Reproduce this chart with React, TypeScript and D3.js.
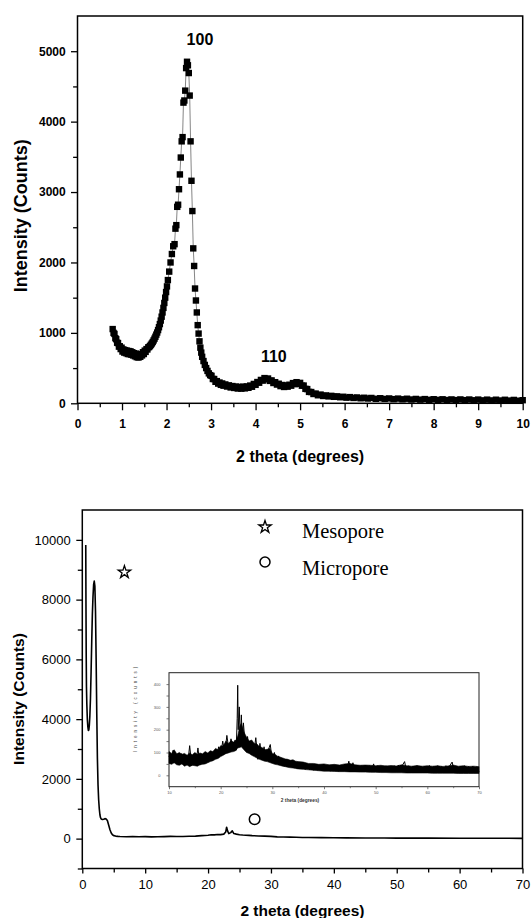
import React, { useRef, useEffect } from "react";
import * as d3 from "d3";

// ---- top panel: low-angle XRD (scatter squares) ----
const topXTicks = [0, 1, 2, 3, 4, 5, 6, 7, 8, 9, 10];
const topXMinor = [0.5, 1.5, 2.5, 3.5, 4.5, 5.5, 6.5, 7.5, 8.5, 9.5];
const topYTicks = [0, 1000, 2000, 3000, 4000, 5000];
const topYMinor = [500, 1500, 2500, 3500, 4500];

const lowAngle: [number, number][] = [
  [0.79, 1054], [0.81, 1000], [0.83, 985], [0.85, 925], [0.87, 910], [0.89, 860], [0.91, 855], [0.93, 805],
  [0.95, 810], [0.97, 770], [0.99, 790], [1.01, 735], [1.03, 765], [1.05, 720], [1.07, 755], [1.09, 712],
  [1.11, 748], [1.13, 700], [1.15, 742], [1.17, 698], [1.19, 738], [1.21, 690], [1.23, 725], [1.25, 680],
  [1.27, 712], [1.29, 668], [1.31, 705], [1.33, 655], [1.35, 695], [1.37, 650], [1.39, 690], [1.41, 660],
  [1.43, 700], [1.45, 680], [1.47, 725], [1.49, 700], [1.51, 748], [1.53, 730], [1.55, 770], [1.57, 765],
  [1.59, 795], [1.61, 800], [1.63, 815], [1.65, 832], [1.67, 850], [1.69, 870], [1.71, 893], [1.73, 918],
  [1.75, 945], [1.77, 975], [1.79, 1005], [1.81, 1040], [1.83, 1080], [1.85, 1125], [1.87, 1175], [1.89, 1230],
  [1.91, 1290], [1.93, 1355], [1.95, 1425], [1.97, 1500], [1.99, 1580], [2.01, 1660], [2.03, 1750], [2.06, 1870],
  [2.09, 2000], [2.12, 2120], [2.15, 2230], [2.18, 2260], [2.2, 2480], [2.22, 2530], [2.24, 2790], [2.26, 2820],
  [2.28, 3040], [2.3, 3250], [2.32, 3490], [2.34, 3720], [2.36, 3780], [2.38, 4270], [2.4, 4300], [2.42, 4440],
  [2.44, 4760], [2.46, 4850], [2.48, 4800], [2.5, 4690], [2.52, 4370], [2.54, 3720], [2.56, 3160], [2.58, 2730],
  [2.6, 2200], [2.62, 1950], [2.64, 1630], [2.66, 1460], [2.68, 1290], [2.7, 1110], [2.72, 990], [2.74, 880],
  [2.76, 790], [2.78, 720], [2.8, 660], [2.83, 600], [2.86, 545], [2.89, 500], [2.92, 460], [2.95, 425],
  [2.98, 400], [3.01, 390], [3.04, 345], [3.07, 345], [3.1, 305], [3.13, 315], [3.16, 280], [3.19, 295],
  [3.22, 262], [3.25, 282], [3.28, 250], [3.32, 268], [3.36, 238], [3.4, 255], [3.44, 225], [3.48, 245],
  [3.52, 218], [3.56, 238], [3.6, 210], [3.64, 232], [3.68, 208], [3.72, 236], [3.76, 212], [3.8, 240],
  [3.84, 220], [3.88, 252], [3.92, 235], [3.96, 275], [4.0, 262], [4.04, 302], [4.08, 292], [4.12, 332],
  [4.16, 322], [4.2, 358], [4.24, 340], [4.28, 352], [4.32, 318], [4.36, 325], [4.4, 288], [4.44, 300],
  [4.48, 266], [4.52, 278], [4.56, 244], [4.6, 260], [4.64, 232], [4.68, 254], [4.72, 236], [4.76, 264],
  [4.8, 250], [4.84, 287], [4.88, 272], [4.92, 300], [4.96, 276], [5.0, 290], [5.04, 250], [5.08, 252],
  [5.12, 205], [5.16, 202], [5.2, 162], [5.25, 160], [5.3, 132], [5.35, 138], [5.4, 114], [5.46, 124],
  [5.52, 104], [5.58, 112], [5.64, 98], [5.7, 106], [5.76, 92], [5.83, 99], [5.9, 86], [5.97, 93],
  [6.04, 80], [6.12, 88], [6.2, 76], [6.28, 83], [6.36, 71], [6.44, 79], [6.52, 68], [6.6, 76],
  [6.7, 64], [6.8, 72], [6.9, 62], [7.0, 69], [7.1, 59], [7.2, 67], [7.3, 57], [7.4, 65],
  [7.5, 54], [7.6, 62], [7.7, 52], [7.8, 60], [7.9, 50], [8.0, 58], [8.1, 49], [8.2, 57],
  [8.3, 47], [8.4, 55], [8.5, 46], [8.6, 55], [8.7, 45], [8.8, 54], [8.9, 43], [9.0, 53],
  [9.1, 42], [9.2, 52], [9.3, 41], [9.4, 51], [9.5, 40], [9.6, 50], [9.7, 39], [9.8, 48],
  [9.9, 37], [10.0, 44],
];

// ---- bottom panel: wide-angle XRD (line) ----
const botXTicks = [0, 10, 20, 30, 40, 50, 60, 70];
const botXMinor = [5, 15, 25, 35, 45, 55, 65];
const botYTicks = [0, 2000, 4000, 6000, 8000, 10000];
const botYMinor = [-1000, 1000, 3000, 5000, 7000, 9000];

const wideAngle: [number, number][] = [
  [0.55, 9830], [0.58, 8000], [0.62, 6200], [0.66, 5100], [0.72, 4500], [0.8, 4000], [0.88, 3750], [0.96, 3620],
  [1.04, 3640], [1.12, 3800], [1.2, 4100], [1.3, 4700], [1.4, 5600], [1.5, 6600], [1.6, 7500], [1.7, 8100],
  [1.8, 8500], [1.9, 8620], [2.0, 8450], [2.1, 7600], [2.2, 6000], [2.3, 4200], [2.4, 2700], [2.5, 1800],
  [2.6, 1300], [2.7, 1000], [2.8, 800], [2.9, 700], [3.0, 660], [3.2, 640], [3.4, 650], [3.6, 670],
  [3.8, 660], [4.0, 600], [4.2, 450], [4.4, 300], [4.6, 190], [4.8, 130], [5.0, 100], [5.3, 85],
  [5.7, 75], [6.0, 70], [7.0, 65], [8.0, 70], [9.0, 62], [10.0, 66], [11.0, 60], [12.0, 64],
  [13.0, 68], [14.0, 75], [15.0, 70], [16.0, 72], [17.0, 80], [18.0, 85], [19.0, 100], [20.0, 115],
  [20.5, 130], [21.0, 125], [21.5, 140], [22.0, 135], [22.5, 150], [22.8, 220], [22.95, 380], [23.1, 260],
  [23.3, 170], [23.6, 200], [23.85, 260], [24.1, 170], [24.5, 150], [25.0, 130], [25.5, 120], [26.0, 115],
  [26.5, 110], [27.0, 100], [28.0, 90], [29.0, 85], [30.0, 75], [31.0, 60], [32.0, 55], [33.0, 50],
  [34.0, 45], [35.0, 40], [36.0, 38], [38.0, 32], [40.0, 28], [42.0, 25], [45.0, 22], [48.0, 20],
  [50.0, 18], [55.0, 16], [60.0, 14], [65.0, 12], [70.0, 10],
];

// ---- inset: zoom of 10-70 degrees ----
const insetXTicks = [10, 20, 30, 40, 50, 60, 70];
const insetXMinor = [15, 25, 35, 45, 55, 65];
const insetYTicks = [0, 100, 200, 300, 400];
const insetYMinor = [50, 150, 250, 350];

// noise envelope of the dense scan: [angle, low, high]
const insetBand: [number, number, number][] = [
  [10, 52, 104], [10.5, 48, 96], [11, 55, 112], [11.5, 46, 94], [12, 44, 100], [12.5, 50, 92],
  [13, 40, 96], [13.5, 45, 88], [14, 38, 98], [14.5, 44, 90], [15, 42, 100], [15.5, 40, 92],
  [16, 46, 98], [16.5, 48, 94], [17, 50, 104], [17.5, 55, 98], [18, 60, 108], [18.5, 64, 104],
  [19, 70, 118], [19.5, 74, 112], [20, 82, 130], [20.5, 88, 128], [21, 95, 150], [21.5, 98, 140],
  [22, 102, 152], [22.5, 104, 146], [22.9, 108, 150], [23.3, 120, 172], [23.7, 122, 215], [24, 125, 228],
  [24.5, 112, 190], [25, 100, 168], [25.5, 96, 150], [26, 88, 155], [26.5, 82, 140], [27, 76, 138],
  [27.5, 70, 125], [28, 66, 122], [28.5, 62, 112], [29, 60, 114], [29.5, 56, 118], [30, 52, 96],
  [30.5, 48, 92], [31, 46, 84], [31.5, 43, 80], [32, 40, 76], [32.5, 38, 72], [33, 35, 70],
  [33.5, 33, 66], [34, 32, 68], [34.5, 30, 62], [35, 28, 60], [36, 26, 58], [37, 24, 52],
  [38, 22, 52], [39, 20, 48], [40, 18, 50], [41, 18, 46], [42, 17, 48], [43, 16, 45],
  [44, 16, 50], [45, 15, 52], [46, 15, 46], [47, 14, 44], [48, 14, 45], [49, 13, 44],
  [50, 13, 42], [51, 12, 44], [52, 12, 41], [53, 11, 43], [54, 11, 41], [55, 11, 46],
  [56, 10, 42], [57, 10, 40], [58, 10, 43], [59, 10, 40], [60, 10, 42], [61, 9, 40],
  [62, 9, 42], [63, 9, 39], [64, 9, 41], [65, 9, 45], [66, 8, 40], [67, 8, 42],
  [68, 8, 39], [69, 8, 40], [70, 8, 38],
];

const insetScan: [number, number][] = [
  [10.0, 85], [10.4, 60], [10.8, 110], [11.2, 55], [11.6, 80], [12.0, 50], [12.4, 95], [12.8, 48],
  [13.2, 70], [13.6, 45], [14.0, 130], [14.4, 42], [14.8, 90], [15.2, 50], [15.6, 120], [16.0, 45],
  [16.4, 85], [16.8, 55], [17.2, 95], [17.6, 58], [18.0, 100], [18.4, 65], [18.8, 110], [19.2, 75],
  [19.6, 125], [20.0, 85], [20.4, 150], [20.8, 95], [21.2, 175], [21.6, 110], [22.0, 160], [22.4, 115],
  [22.8, 155], [23.0, 110], [23.2, 250], [23.3, 395], [23.4, 200], [23.6, 300], [23.8, 140], [24.0, 265],
  [24.2, 150], [24.4, 230], [24.8, 120], [25.2, 170], [25.6, 100], [26.0, 150], [26.4, 95], [26.8, 165],
  [27.2, 70], [27.6, 140], [28.0, 75], [28.4, 125], [28.8, 65], [29.2, 110], [29.6, 135], [30.0, 60],
  [30.4, 100], [30.8, 50], [31.2, 85], [31.6, 45], [32.0, 75], [32.4, 40], [32.8, 70], [33.2, 38],
  [33.6, 65], [34.0, 35], [34.4, 60], [34.8, 30], [35.2, 55], [35.6, 28], [36.0, 52], [36.4, 26],
  [36.8, 50], [37.2, 25], [37.6, 48], [38.0, 22], [38.4, 46], [38.8, 22], [39.2, 45], [39.6, 20],
  [40.0, 42], [40.4, 20], [40.8, 44], [41.2, 18], [41.6, 40], [42.0, 20], [42.4, 45], [42.8, 18],
  [43.2, 40], [43.6, 22], [44.0, 48], [44.4, 20], [44.8, 62], [45.2, 22], [45.6, 55], [46.0, 20],
  [46.4, 45], [46.8, 18], [47.2, 42], [47.6, 18], [48.0, 40], [48.4, 17], [48.8, 42], [49.2, 20],
  [49.6, 50], [50.0, 18], [50.4, 42], [50.8, 17], [51.2, 40], [51.6, 16], [52.0, 42], [52.4, 17],
  [52.8, 40], [53.2, 16], [53.6, 42], [54.0, 18], [54.4, 44], [54.8, 17], [55.2, 45], [55.6, 60],
  [56.0, 16], [56.4, 42], [56.8, 14], [57.2, 40], [57.6, 16], [58.0, 42], [58.4, 18], [58.8, 39],
  [59.2, 14], [59.6, 40], [60.0, 16], [60.4, 43], [60.8, 14], [61.2, 38], [61.6, 16], [62.0, 42],
  [62.4, 14], [62.8, 39], [63.2, 16], [63.6, 42], [64.0, 14], [64.4, 44], [64.8, 58], [65.2, 14],
  [65.6, 40], [66.0, 12], [66.4, 39], [66.8, 14], [67.2, 42], [67.6, 12], [68.0, 39], [68.4, 14],
  [68.8, 40], [69.2, 10], [69.6, 38], [70.0, 16],
];

// annotation markers (data coords)
const starMarker: [number, number] = [6.7, 8920];
const circleMarker: [number, number] = [27.4, 650];
const peakLabels: { text: string; x: number; y: number }[] = [
  { text: "100", x: 2.75, y: 5090 },
  { text: "110", x: 4.41, y: 590 },
];

const SANS = "'Liberation Sans', Arial, Helvetica, sans-serif";
const SERIF = "'Liberation Serif', 'Times New Roman', serif";

function styleAxis(g: any, size: number, weight: string, color = "#000", stroke = 1.3) {
  g.select(".domain").remove();
  g.attr("font-family", SANS).attr("font-size", size).attr("font-weight", weight);
  g.selectAll("line").attr("stroke", color).attr("stroke-width", stroke);
  g.selectAll("text").attr("fill", color);
}

export default function App() {
  const svgRef = useRef<SVGSVGElement>(null);

  useEffect(() => {
    const svg = d3.select(svgRef.current);
    svg.selectAll("*").remove();

    // ========== TOP ==========
    const xT = d3.scaleLinear().domain([0, 10]).range([77.5, 522.7]);
    const yT = d3.scaleLinear().domain([0, 5500]).range([403.3, 16]);
    const top = svg.append("g");

    top.append("g").attr("transform", `translate(0,${yT(0)})`)
      .call(d3.axisBottom(xT).tickValues(topXTicks).tickSize(7).tickPadding(9.5).tickFormat(d3.format("d")))
      .call((g: any) => styleAxis(g, 12, "bold"));
    top.append("g").attr("transform", `translate(0,${yT(0)})`)
      .call(d3.axisBottom(xT).tickValues(topXMinor).tickSize(4).tickFormat(() => ""))
      .call((g: any) => styleAxis(g, 12, "bold"));
    top.append("g").attr("transform", `translate(${xT(0)},0)`)
      .call(d3.axisLeft(yT).tickValues(topYTicks).tickSize(6.5).tickPadding(5.3).tickFormat(d3.format("d")))
      .call((g: any) => styleAxis(g, 12, "bold"));
    top.append("g").attr("transform", `translate(${xT(0)},0)`)
      .call(d3.axisLeft(yT).tickValues(topYMinor).tickSize(4.4).tickFormat(() => ""))
      .call((g: any) => styleAxis(g, 12, "bold"));

    top.append("rect")
      .attr("x", xT(0)).attr("y", yT(5500))
      .attr("width", xT(10) - xT(0)).attr("height", yT(0) - yT(5500))
      .attr("fill", "none").attr("stroke", "#000").attr("stroke-width", 1.5);

    const lineT = d3.line<[number, number]>().x((d) => xT(d[0])).y((d) => yT(d[1]));
    top.append("path").datum(lowAngle).attr("d", lineT)
      .attr("fill", "none").attr("stroke", "#666").attr("stroke-width", 0.8);
    top.selectAll(".sq").data(lowAngle).join("rect").attr("class", "sq")
      .attr("x", (d) => xT(d[0]) - 3.2).attr("y", (d) => yT(d[1]) - 3.2)
      .attr("width", 6.4).attr("height", 6.4).attr("fill", "#000");

    top.selectAll(".pk").data(peakLabels).join("text").attr("class", "pk")
      .attr("x", (d) => xT(d.x)).attr("y", (d) => yT(d.y))
      .attr("text-anchor", "middle").attr("font-family", SANS)
      .attr("font-weight", "bold").attr("font-size", 16).text((d) => d.text);

    top.append("text")
      .attr("transform", `translate(27,${(yT(0) + yT(5500)) / 2 + 6}) rotate(-90)`)
      .attr("text-anchor", "middle").attr("font-family", SANS)
      .attr("font-weight", "bold").attr("font-size", 18).text("Intensity (Counts)");
    top.append("text")
      .attr("x", (xT(0) + xT(10)) / 2).attr("y", 462)
      .attr("text-anchor", "middle").attr("font-family", SANS)
      .attr("font-weight", "bold").attr("font-size", 16).text("2 theta (degrees)");

    // ========== BOTTOM ==========
    const xB = d3.scaleLinear().domain([0, 70]).range([82.3, 522.5]);
    const yB = d3.scaleLinear().domain([-1000, 11000]).range([868.5, 510]);
    const bot = svg.append("g");

    bot.append("g").attr("transform", `translate(0,${yB(-1000)})`)
      .call(d3.axisBottom(xB).tickValues(botXTicks).tickSize(5).tickPadding(6.5).tickFormat(d3.format("d")))
      .call((g: any) => styleAxis(g, 13, "normal"));
    bot.append("g").attr("transform", `translate(0,${yB(-1000)})`)
      .call(d3.axisBottom(xB).tickValues(botXMinor).tickSize(4).tickFormat(() => ""))
      .call((g: any) => styleAxis(g, 13, "normal"));
    bot.append("g").attr("transform", `translate(${xB(0)},0)`)
      .call(d3.axisLeft(yB).tickValues(botYTicks).tickSize(6).tickPadding(5.6).tickFormat(d3.format("d")))
      .call((g: any) => styleAxis(g, 13, "normal"));
    bot.append("g").attr("transform", `translate(${xB(0)},0)`)
      .call(d3.axisLeft(yB).tickValues(botYMinor).tickSize(4.5).tickFormat(() => ""))
      .call((g: any) => styleAxis(g, 13, "normal"));

    bot.append("rect")
      .attr("x", xB(0)).attr("y", yB(11000))
      .attr("width", xB(70) - xB(0)).attr("height", yB(-1000) - yB(11000))
      .attr("fill", "none").attr("stroke", "#000").attr("stroke-width", 1.5);

    const lineB = d3.line<[number, number]>().x((d) => xB(d[0])).y((d) => yB(d[1]));
    bot.append("path").datum(wideAngle).attr("d", lineB)
      .attr("fill", "none").attr("stroke", "#000").attr("stroke-width", 1.6)
      .attr("stroke-linejoin", "round");

    // markers
    const star = d3.symbol().type(d3.symbolStar).size(48);
    bot.append("path").attr("d", star())
      .attr("transform", `translate(${xB(starMarker[0])},${yB(starMarker[1])})`)
      .attr("fill", "#fff").attr("stroke", "#000").attr("stroke-width", 1.3);
    bot.append("circle")
      .attr("cx", xB(circleMarker[0])).attr("cy", yB(circleMarker[1])).attr("r", 5.3)
      .attr("fill", "none").attr("stroke", "#000").attr("stroke-width", 1.5);

    // legend
    bot.append("path").attr("d", star())
      .attr("transform", "translate(265,527)")
      .attr("fill", "#fff").attr("stroke", "#000").attr("stroke-width", 1.3);
    bot.append("circle").attr("cx", 265).attr("cy", 562).attr("r", 5)
      .attr("fill", "none").attr("stroke", "#000").attr("stroke-width", 1.5);
    bot.append("text").attr("x", 302).attr("y", 538).attr("font-family", SERIF)
      .attr("font-size", 20.5).text("Mesopore");
    bot.append("text").attr("x", 302).attr("y", 575).attr("font-family", SERIF)
      .attr("font-size", 20.5).text("Micropore");

    bot.append("text")
      .attr("transform", `translate(24,699) rotate(-90)`)
      .attr("text-anchor", "middle").attr("font-family", SANS)
      .attr("font-weight", "bold").attr("font-size", 15.5).text("Intensity (Counts)");
    bot.append("text")
      .attr("x", (xB(0) + xB(70)) / 2).attr("y", 916)
      .attr("text-anchor", "middle").attr("font-family", SANS)
      .attr("font-weight", "bold").attr("font-size", 15.5).text("2 theta (degrees)");

    // ========== INSET ==========
    const xI = d3.scaleLinear().domain([10, 70]).range([169, 479]);
    const yI = d3.scaleLinear().domain([-50, 450]).range([786.7, 672.7]);
    const ins = svg.append("g");

    ins.append("rect")
      .attr("x", xI(10)).attr("y", yI(450))
      .attr("width", xI(70) - xI(10)).attr("height", yI(-50) - yI(450))
      .attr("fill", "#fff").attr("stroke", "#222").attr("stroke-width", 1);

    ins.append("g").attr("transform", `translate(0,${yI(-50)})`)
      .call(d3.axisBottom(xI).tickValues(insetXTicks).tickSize(2.5).tickPadding(1.5).tickFormat(d3.format("d")))
      .call((g: any) => styleAxis(g, 4, "normal", "#555", 0.8));
    ins.append("g").attr("transform", `translate(0,${yI(-50)})`)
      .call(d3.axisBottom(xI).tickValues(insetXMinor).tickSize(1.5).tickFormat(() => ""))
      .call((g: any) => styleAxis(g, 4, "normal", "#555", 0.8));
    ins.append("g").attr("transform", `translate(${xI(10)},0)`)
      .call(d3.axisLeft(yI).tickValues(insetYTicks).tickSize(2.5).tickPadding(6).tickFormat(d3.format("d")))
      .call((g: any) => styleAxis(g, 4, "normal", "#555", 0.8));
    ins.append("g").attr("transform", `translate(${xI(10)},0)`)
      .call(d3.axisLeft(yI).tickValues(insetYMinor).tickSize(2.5).tickFormat(() => ""))
      .call((g: any) => styleAxis(g, 4, "normal", "#555", 0.8));

    const bandI = d3.area<[number, number, number]>()
      .x((d) => xI(d[0])).y0((d) => yI(d[1])).y1((d) => yI(d[2]));
    ins.append("path").datum(insetBand).attr("d", bandI)
      .attr("fill", "#000").attr("stroke", "#000").attr("stroke-width", 0.6);

    const lineI = d3.line<[number, number]>().x((d) => xI(d[0])).y((d) => yI(d[1]));
    ins.append("path").datum(insetScan).attr("d", lineI)
      .attr("fill", "none").attr("stroke", "#000").attr("stroke-width", 1);

    ins.append("text")
      .attr("transform", `translate(137,708) rotate(-90)`)
      .attr("text-anchor", "middle").attr("font-family", SANS)
      .attr("font-size", 4.5).attr("letter-spacing", 3).attr("fill", "#444")
      .text("Intensity (counts)");
    ins.append("text")
      .attr("x", 300).attr("y", 801.5)
      .attr("text-anchor", "middle").attr("font-family", SANS)
      .attr("font-weight", "bold").attr("font-size", 4.8).attr("fill", "#333")
      .text("2 theta (degrees)");
  }, []);

  return (
    <svg
      ref={svgRef}
      width={532}
      height={918}
      style={{ position: "absolute", left: 0, top: 0, background: "#fff", display: "block" }}
    />
  );
}
